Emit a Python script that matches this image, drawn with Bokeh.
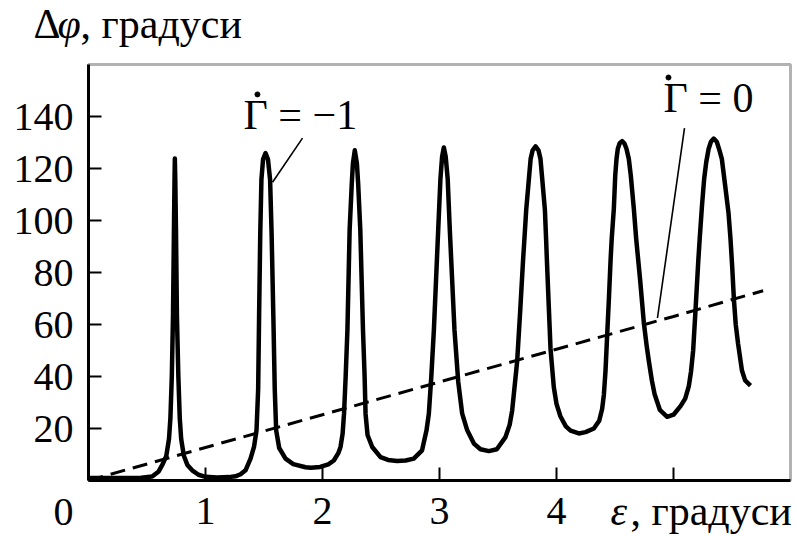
from bokeh.plotting import figure
from bokeh.models import Range1d, Label, FixedTicker, LinearAxis, BoxAnnotation
from bokeh.embed import file_html
from bokeh.resources import INLINE

# Phase difference for Gamma-dot = -1 (resonant curve): epsilon, degrees -> delta phi, degrees
eps_res = [0.00, 0.15, 0.30, 0.45, 0.544, 0.60, 0.635, 0.665, 0.688, 0.700, 0.712, 0.722,
           0.730, 0.735, 0.738, 0.742, 0.748, 0.756, 0.768, 0.780, 0.792, 0.815, 0.845,
           0.886, 0.94, 1.00, 1.10, 1.20, 1.256, 1.30, 1.342, 1.385, 1.415, 1.436, 1.450,
           1.458, 1.468, 1.478, 1.492, 1.513, 1.534, 1.552, 1.565, 1.580, 1.592, 1.604,
           1.630, 1.684, 1.750, 1.855, 1.900, 1.980, 2.050, 2.097, 2.135, 2.154, 2.172,
           2.184, 2.198, 2.213, 2.232, 2.250, 2.260, 2.276, 2.294, 2.305, 2.323, 2.346,
           2.360, 2.368, 2.385, 2.425, 2.496, 2.560, 2.638, 2.710, 2.780, 2.851, 2.889,
           2.909, 2.930, 2.952, 2.989, 3.008, 3.022, 3.037, 3.053, 3.070, 3.088, 3.128,
           3.160, 3.194, 3.237, 3.294, 3.350, 3.422, 3.490, 3.564, 3.600, 3.621, 3.650,
           3.664, 3.690, 3.714, 3.726, 3.741, 3.766, 3.779, 3.796, 3.821, 3.846, 3.863,
           3.876, 3.901, 3.911, 3.918, 3.934, 3.949, 3.977, 4.000, 4.034, 4.080, 4.120,
           4.191, 4.248, 4.319, 4.365, 4.390, 4.405, 4.419, 4.433, 4.448, 4.462, 4.472,
           4.490, 4.502, 4.513, 4.524, 4.540, 4.561, 4.580, 4.598, 4.618, 4.635, 4.661,
           4.681, 4.715, 4.746, 4.770, 4.789, 4.815, 4.838, 4.883, 4.946, 5.000, 5.060,
           5.100, 5.131, 5.150, 5.168, 5.188, 5.212, 5.224, 5.244, 5.262, 5.280, 5.300,
           5.320, 5.344, 5.370, 5.393, 5.413, 5.440, 5.470, 5.487, 5.502, 5.516, 5.532,
           5.552, 5.585, 5.612, 5.658]
dphi_res = [1.0, 1.0, 1.0, 1.1, 1.5, 3.5, 6.4, 9.5, 16, 24, 40, 63,
            95, 115, 123.8, 115, 95, 63, 40, 24, 16, 9.5, 6.0,
            3.9, 2.2, 1.4, 1.2, 1.3, 1.6, 2.4, 3.9, 8.4, 13, 19.3, 35,
            63, 95, 115.8, 123.5, 125.9, 123.5, 115.8, 95, 63, 35, 19.3,
            12.5, 8.4, 6.3, 5.1, 4.9, 5.2, 6.2, 7.7, 10.5, 12.9, 18,
            25.7, 40, 57.9, 96.5, 114, 122, 127, 122, 114, 96.5, 57.9,
            40, 25.7, 17.5, 12.9, 9.0, 7.9, 7.5, 7.7, 8.4, 11.6, 19.3,
            25.7, 40, 57.9, 96.5, 116, 124.5, 128.1, 124.5, 116, 96.5, 57.9,
            38, 25.7, 19.3, 14.2, 12.0, 11.3, 12.0, 16.7, 21.5, 26.9, 39.7,
            46, 65.4, 84.6, 93, 104, 117, 123.7, 127, 128.5, 127, 123.7,
            117, 104, 93, 84.6, 67, 50.6, 35.9, 29.5, 24.6, 20.8, 19.2,
            18.1, 18.6, 20.0, 23, 27.5, 33, 42.3, 55.8, 70, 84.6, 93,
            104.5, 117.3, 123.7, 127.6, 129.7, 130.5, 129.7, 127.6, 123.7, 117.3, 104.5,
            93, 77, 60.9, 52, 46, 38.5, 33.3, 27.2, 24.5, 25.3, 28.6,
            31.5, 36.3, 42, 50, 65.4, 84.6, 93, 106, 116, 122.5, 127.5,
            130.3, 131.5, 130.3, 127, 123.7, 114, 103, 93, 82, 69.9, 60,
            52.6, 42.3, 38.5, 36.5]

# Phase difference for Gamma-dot = 0 (straight dashed line)
eps_lin = [0.0, 1.0, 2.0, 3.0, 4.0, 5.0, 5.766]
dphi_lin = [0.0, 12.7, 25.3, 37.9, 50.5, 63.1, 73.0]

# Leader lines from the curve captions to their curves
lead_m1_x = [1.829, 1.573]
lead_m1_y = [131.7, 114.7]
lead_0_x = [5.094, 4.863]
lead_0_y = [135.5, 62.5]

# dots over the Gamma letters of the captions (time derivative mark)
cap_dot_x = [1.444, 4.957]
cap_dot_y = [148.5, 155.0]

x_ticks = [1, 2, 3, 4, 5]
x_tick_labels = {1: "1", 2: "2", 3: "3", 4: "4", 5: ""}
y_ticks = [20, 40, 60, 80, 100, 120, 140]
x_lim = (0, 6)
y_lim = (0, 160)

SERIF = "Liberation Serif"
NUM_SIZE = "40px"
TXT_SIZE = "42px"

W, H = 797, 536
LEFT, BOTTOM = 88, 56          # pixel position of the (0, 0) corner
PX_X, PX_Y = 117.0, 2.6        # pixels per unit on each axis

# the data ranges span the whole canvas so that captions outside the box are drawn
x_range = Range1d(-LEFT / PX_X, (W - LEFT) / PX_X)
y_range = Range1d(-BOTTOM / PX_Y, (H - BOTTOM) / PX_Y)

p = figure(width=W, height=H, x_range=x_range, y_range=y_range,
           output_backend="svg", toolbar_location=None,
           x_axis_location=None, y_axis_location=None,
           min_border=0)
p.min_border_left = p.min_border_right = p.min_border_top = p.min_border_bottom = 0
p.background_fill_color = "white"
p.border_fill_color = "white"
p.outline_line_color = None
p.xgrid.visible = False
p.ygrid.visible = False

xaxis = LinearAxis(fixed_location=0, bounds=x_lim, ticker=FixedTicker(ticks=x_ticks),
                   major_label_overrides=x_tick_labels, major_label_standoff=17)
yaxis = LinearAxis(fixed_location=0, bounds=y_lim, ticker=FixedTicker(ticks=y_ticks),
                   major_label_standoff=15)
for ax in (xaxis, yaxis):
    ax.axis_line_width = 3
    ax.axis_line_color = "black"
    ax.major_tick_in = 13
    ax.major_tick_out = 0
    ax.major_tick_line_width = 2
    ax.minor_tick_line_color = None
    ax.major_label_text_font = SERIF
    ax.major_label_text_font_size = NUM_SIZE
    ax.major_label_text_color = "black"
p.add_layout(xaxis, "below")
p.add_layout(yaxis, "left")

# plot box
p.add_layout(BoxAnnotation(left=x_lim[0], right=x_lim[1], bottom=y_lim[0], top=y_lim[1],
                           fill_color=None, line_color="black", line_width=3))

p.line(eps_lin, dphi_lin, line_color="black", line_width=3, line_dash="15 8")
p.line(eps_res, dphi_res, line_color="black", line_width=4.5, line_join="round")
p.line(lead_m1_x, lead_m1_y, line_color="black", line_width=1.6)
p.line(lead_0_x, lead_0_y, line_color="black", line_width=1.6)
p.scatter(cap_dot_x, cap_dot_y, size=5, color="black")


def lab(x, y, text, size=TXT_SIZE, style="normal", align="left"):
    p.add_layout(Label(x=x, y=y, text=text, text_font=SERIF, text_font_size=size,
                       text_font_style=style, text_align=align,
                       text_baseline="alphabetic", text_color="black"))


# axis titles
lab(-0.470, 175.6, "Δ")
lab(-0.265, 175.6, "φ", style="italic")
lab(-0.068, 175.6, ", градуси")
lab(-0.214, -12.0, "0", size=NUM_SIZE, align="center")
lab(4.462, -11.9, "ε", style="italic")
lab(4.632, -11.9, ", градуси")

# curve captions
lab(1.325, 140.7, "Γ = −1")
lab(4.915, 147.3, "Γ = 0")

open("out.html", "w").write(file_html(p, INLINE))
